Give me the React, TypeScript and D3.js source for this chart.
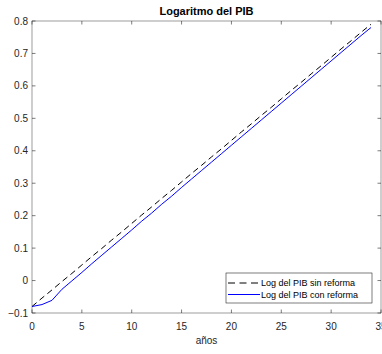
import React from "react";
import * as d3 from "d3";

const years = Array.from({ length: 35 }, (_, i) => i);
const sinReforma = [
  -0.080, -0.054, -0.029, -0.003, 0.022, 0.048, 0.074, 0.099, 0.125, 0.150,
  0.176, 0.202, 0.227, 0.253, 0.278, 0.304, 0.330, 0.355, 0.381, 0.406,
  0.432, 0.458, 0.483, 0.509, 0.534, 0.560, 0.586, 0.611, 0.637, 0.662,
  0.688, 0.714, 0.739, 0.765, 0.790,
];
const conReforma = [
  -0.080, -0.074, -0.061, -0.027, -0.001, 0.025, 0.052, 0.078, 0.104, 0.130,
  0.156, 0.183, 0.208, 0.235, 0.260, 0.287, 0.313, 0.339, 0.365, 0.391,
  0.417, 0.443, 0.469, 0.495, 0.521, 0.547, 0.573, 0.599, 0.625, 0.651,
  0.677, 0.703, 0.729, 0.755, 0.780,
];
const xTicks = [0, 5, 10, 15, 20, 25, 30, 35];
const yTicks = [-0.1, 0, 0.1, 0.2, 0.3, 0.4, 0.5, 0.6, 0.7, 0.8];
const seriesNames = ["Log del PIB sin reforma", "Log del PIB con reforma"];
const title = "Logaritmo del PIB";
const xLabel = "años";

export default function App() {
  const W = 382, H = 354;
  const left = 32, right = 381, top = 21, bottom = 313;
  const x = d3.scaleLinear().domain([0, 35]).range([left, right]);
  const y = d3.scaleLinear().domain([-0.1, 0.8]).range([bottom, top]);
  const line = d3.line<number>().x((_, i) => x(years[i])).y((d) => y(d));
  const font = "'Liberation Sans', Arial, sans-serif";
  const axisCol = "#262626";
  const tl = 3.5;
  const fmtY = (v: number) => (v === 0 ? "0" : d3.format(".1f")(v));
  const lg = { x0: 226, y0: 273, x1: 372, y1: 303 };
  return (
    <svg width={W} height={H} style={{ position: "absolute", left: 0, top: 0, background: "#fff" }}>
      <rect x={0} y={0} width={W} height={H} fill="#fff" />
      <text x={(left + right) / 2} y={15} textAnchor="middle" fontFamily={font} fontSize={11} fontWeight="bold" fill="#000">
        {title}
      </text>
      <defs>
        <clipPath id="clip">
          <rect x={left} y={top} width={right - left} height={bottom - top} />
        </clipPath>
      </defs>
      <g clipPath="url(#clip)">
        <path d={line(sinReforma) || ""} fill="none" stroke="#000" strokeWidth={1} strokeDasharray="6,4" />
        <path d={line(conReforma) || ""} fill="none" stroke="#0000ff" strokeWidth={1} />
      </g>
      <rect x={left} y={top} width={right - left} height={bottom - top} fill="none" stroke={axisCol} strokeWidth={0.6} strokeOpacity={0.75} />
      {xTicks.map((t) => (
        <g key={"x" + t}>
          <line x1={x(t)} x2={x(t)} y1={bottom} y2={bottom - tl} stroke={axisCol} strokeWidth={0.6} />
          <line x1={x(t)} x2={x(t)} y1={top} y2={top + tl} stroke={axisCol} strokeWidth={0.6} />
          <text x={x(t)} y={330} textAnchor="middle" fontFamily={font} fontSize={10} fill={axisCol}>
            {t}
          </text>
        </g>
      ))}
      {yTicks.map((t) => (
        <g key={"y" + t}>
          <line x1={left} x2={left + tl} y1={y(t)} y2={y(t)} stroke={axisCol} strokeWidth={0.6} />
          <line x1={right} x2={right - tl} y1={y(t)} y2={y(t)} stroke={axisCol} strokeWidth={0.6} />
          <text x={28} y={y(t) + 3.5} textAnchor="end" fontFamily={font} fontSize={10} fill={axisCol}>
            {fmtY(t)}
          </text>
        </g>
      ))}
      <text x={(left + right) / 2} y={344} textAnchor="middle" fontFamily={font} fontSize={10} fill={axisCol}>
        {xLabel}
      </text>
      <rect x={lg.x0} y={lg.y0} width={lg.x1 - lg.x0} height={lg.y1 - lg.y0} fill="#fff" stroke={axisCol} strokeWidth={0.6} />
      {seriesNames.map((name, i) => {
        const ly = 283 + i * 11.5;
        return (
          <g key={name}>
            <line x1={228} x2={260} y1={ly} y2={ly} stroke={i === 0 ? "#000" : "#0000ff"} strokeWidth={1} strokeDasharray={i === 0 ? "7,4.5" : undefined} />
            <text x={261} y={ly + 3.2} fontFamily={font} fontSize={9} fill="#000">
              {name}
            </text>
          </g>
        );
      })}
    </svg>
  );
}
